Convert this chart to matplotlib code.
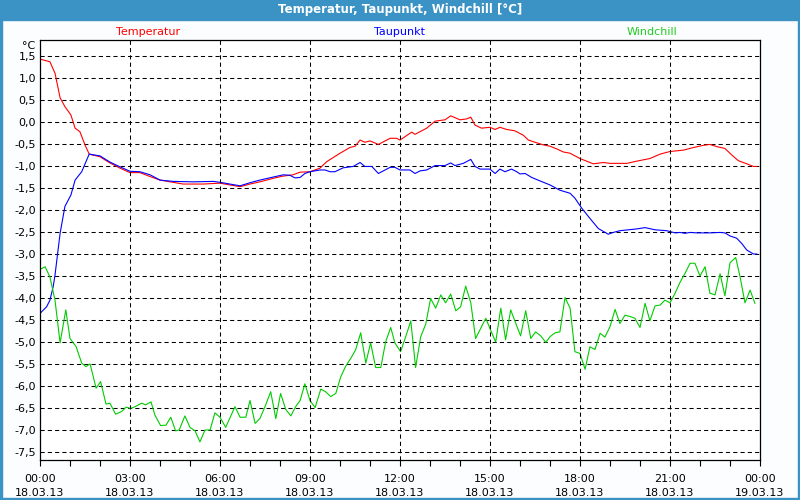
import matplotlib
matplotlib.use("Agg")
import matplotlib.pyplot as plt
from matplotlib.patches import Rectangle

# Stunden ab 18.03.13 00:00
temp_h = [0.0, 0.33, 0.5, 0.67, 0.83, 1.03, 1.17, 1.33, 1.5, 1.64, 2.0, 2.33, 2.67, 3.0, 3.33, 3.67,
          4.0, 4.43, 4.77, 5.43, 6.0, 6.33, 6.67, 7.0, 7.33, 7.77, 8.1, 8.43, 8.67, 9.0, 9.33,
          9.56, 10.0, 10.33, 10.5, 10.67, 10.83, 11.0, 11.28, 11.67, 11.89, 12.0, 12.39, 12.5,
          12.89, 13.17, 13.5, 13.69, 14.0, 14.22, 14.36, 14.5, 14.72, 15.0, 15.17, 15.33, 15.56,
          15.83, 16.11, 16.28, 16.5, 16.78, 17.0, 17.22, 17.44, 17.67, 18.0, 18.44, 18.78, 19.0,
          19.56, 19.89, 20.33, 20.67, 21.0, 21.44, 21.78, 22.11, 22.33, 22.56, 22.83, 23.06,
          23.28, 23.56, 23.78, 23.89]
temp_v = [1.43, 1.37, 1.11, 0.55, 0.35, 0.16, -0.14, -0.22, -0.52, -0.73, -0.79, -0.93, -1.05,
          -1.15, -1.15, -1.24, -1.32, -1.37, -1.41, -1.41, -1.39, -1.43, -1.47, -1.41, -1.36,
          -1.28, -1.23, -1.2, -1.14, -1.13, -1.05, -0.9, -0.71, -0.58, -0.55, -0.41, -0.46,
          -0.43, -0.51, -0.37, -0.37, -0.41, -0.23, -0.28, -0.14, 0.02, 0.05, 0.14, 0.05, 0.07,
          0.11, -0.07, -0.14, -0.12, -0.17, -0.12, -0.17, -0.2, -0.3, -0.41, -0.46, -0.52,
          -0.55, -0.61, -0.68, -0.71, -0.83, -0.95, -0.92, -0.94, -0.94, -0.89, -0.83, -0.73,
          -0.67, -0.64, -0.58, -0.53, -0.51, -0.56, -0.6, -0.75, -0.88, -0.95, -1.01, -1.01]

taup_h = [0.0, 0.22, 0.33, 0.44, 0.5, 0.67, 0.83, 1.03, 1.17, 1.39,
          1.64, 2.0, 2.33, 2.67, 3.0, 3.33, 3.67, 4.0, 4.44, 5.11,
          5.78, 6.0, 6.33, 6.67, 7.0, 7.33, 7.78, 8.11, 8.33, 8.5,
          8.67, 8.83, 9.0, 9.33, 9.5, 9.67, 9.83, 10.11, 10.44, 10.67,
          10.83, 11.06, 11.28, 11.67, 11.83, 12.0, 12.33, 12.5, 12.67, 12.89,
          13.17, 13.5, 13.69, 13.83, 14.11, 14.36, 14.5, 14.67, 15.0, 15.17,
          15.33, 15.5, 15.72, 15.89, 16.0, 16.17, 16.39, 16.67, 17.0, 17.33,
          17.67, 17.83, 18.06, 18.33, 18.61, 18.94, 19.11, 19.33, 19.89, 20.17,
          20.5, 20.89, 21.17, 21.33, 21.5, 21.67, 21.89, 22.33, 22.67, 22.83,
          23.0, 23.22, 23.39, 23.56, 23.78, 23.89]
taup_v = [-4.35, -4.2, -4.05, -3.74, -3.48, -2.53, -1.92, -1.66, -1.32, -1.13,
          -0.73, -0.77, -0.91, -1.02, -1.12, -1.13, -1.2, -1.32, -1.35, -1.36,
          -1.35, -1.37, -1.41, -1.45, -1.38, -1.32, -1.25, -1.2, -1.21, -1.27,
          -1.26, -1.17, -1.13, -1.09, -1.09, -1.13, -1.13, -1.04, -1.01, -0.92,
          -1.01, -1.01, -1.17, -1.03, -1.03, -1.09, -1.09, -1.17, -1.11, -1.09,
          -0.99, -0.99, -0.93, -0.99, -0.94, -0.85, -1.01, -1.07, -1.07, -1.17,
          -1.07, -1.13, -1.07, -1.13, -1.18, -1.17, -1.26, -1.34, -1.43, -1.55,
          -1.62, -1.73, -1.96, -2.19, -2.42, -2.55, -2.51, -2.47, -2.43, -2.4,
          -2.45, -2.47, -2.52, -2.51, -2.53, -2.51, -2.52, -2.52, -2.51, -2.52,
          -2.59, -2.64, -2.76, -2.91, -3.0, -3.0]

wind_h = [0.0, 0.17, 0.33, 0.5, 0.67, 0.86, 1.0, 1.2, 1.39, 1.53, 1.67, 1.87, 2.02, 2.2, 2.33,
          2.52, 2.72, 2.87, 3.02, 3.17, 3.39, 3.52, 3.7, 3.83, 4.02, 4.2, 4.36, 4.52, 4.64, 4.83,
          5.0, 5.17, 5.33, 5.5, 5.67, 5.83, 6.0, 6.19, 6.5, 6.67, 6.86, 7.0, 7.17, 7.33, 7.5,
          7.69, 7.86, 8.02, 8.19, 8.36, 8.52, 8.67, 8.83, 9.0, 9.17, 9.36, 9.52, 9.69, 9.86,
          10.02, 10.19, 10.36, 10.52, 10.69, 10.86, 11.02, 11.19, 11.36, 11.52, 11.69, 11.83,
          12.02, 12.19, 12.36, 12.52, 12.69, 12.86, 13.02, 13.19, 13.36, 13.52, 13.69, 13.86,
          14.02, 14.19, 14.36, 14.52, 14.69, 14.86, 15.02, 15.19, 15.36, 15.52, 15.69, 15.86,
          16.02, 16.19, 16.36, 16.52, 16.69, 16.86, 17.0, 17.17, 17.33, 17.5, 17.67, 17.83,
          18.0, 18.17, 18.33, 18.5, 18.67, 18.83, 19.0, 19.17, 19.33, 19.5, 19.67, 19.83, 20.0,
          20.17, 20.33, 20.5, 20.67, 20.83, 21.0, 21.17, 21.33, 21.5, 21.67, 21.83, 22.0, 22.17,
          22.33, 22.5, 22.67, 22.83, 23.0, 23.19, 23.33, 23.5, 23.67, 23.83]
wind_v = [-3.35, -3.29, -3.52, -4.05, -5.02, -4.27, -4.92, -5.1, -5.48, -5.56, -5.5, -6.05,
          -5.9, -6.41, -6.39, -6.64, -6.58, -6.48, -6.51, -6.47, -6.39, -6.43, -6.36, -6.66,
          -6.9, -6.89, -6.71, -7.02, -7.0, -6.68, -6.94, -7.02, -7.27, -7.0, -7.0, -6.61, -6.71,
          -6.94, -6.47, -6.71, -6.71, -6.33, -6.85, -6.74, -6.47, -6.13, -6.74, -6.17, -6.53,
          -6.68, -6.47, -6.33, -5.95, -6.33, -6.49, -6.07, -6.13, -6.24, -6.17, -5.8, -5.55,
          -5.37, -5.18, -4.79, -5.48, -5.02, -5.58, -5.58, -5.0, -4.67, -5.02, -5.22, -4.88,
          -4.52, -5.58, -4.88, -4.59, -4.01, -4.23, -3.93, -4.11, -3.91, -4.29, -4.2, -3.73,
          -4.11, -4.92, -4.69, -4.46, -4.73, -5.0, -4.23, -4.95, -4.27, -4.58, -4.86, -4.29,
          -4.92, -4.77, -4.86, -5.01, -4.88, -4.79, -4.77, -3.99, -4.23, -5.22, -5.26, -5.62,
          -5.11, -5.17, -4.8, -4.89, -4.65, -4.26, -4.58, -4.39, -4.42, -4.46, -4.67, -4.12,
          -4.52, -4.18, -4.16, -4.05, -4.11, -3.89, -3.65, -3.44, -3.21, -3.21, -3.5, -3.29,
          -3.89, -3.93, -3.45, -3.95, -3.2, -3.08, -3.5, -4.11, -3.82, -4.12]

x_ticks = [0, 3, 6, 9, 12, 15, 18, 21, 24]
x_labels = ["00:00\n18.03.13", "03:00\n18.03.13", "06:00\n18.03.13", "09:00\n18.03.13",
            "12:00\n18.03.13", "15:00\n18.03.13", "18:00\n18.03.13", "21:00\n18.03.13",
            "00:00\n19.03.13"]
y_ticks = [1.5, 1.0, 0.5, 0.0, -0.5, -1.0, -1.5, -2.0, -2.5, -3.0, -3.5, -4.0, -4.5, -5.0,
           -5.5, -6.0, -6.5, -7.0, -7.5]

plt.rcParams["font.family"] = "DejaVu Sans"
fig = plt.figure(figsize=(8, 5), dpi=100, facecolor="#fbfdfe")

# Rahmen und Titelleiste
blau = "#3b93c5"
fig.patches.append(Rectangle((0, 0.96), 1, 0.04, transform=fig.transFigure, color=blau, zorder=0))
fig.patches.append(Rectangle((0, 0), 0.003, 1, transform=fig.transFigure, color=blau, zorder=0))
fig.patches.append(Rectangle((0.997, 0), 0.003, 1, transform=fig.transFigure, color=blau, zorder=0))
fig.patches.append(Rectangle((0, 0), 1, 0.004, transform=fig.transFigure, color=blau, zorder=0))
fig.text(0.5, 0.98, "Temperatur, Taupunkt, Windchill [°C]", color="white", fontsize=8.5,
         fontweight="bold", ha="center", va="center")

ax = fig.add_axes([0.05, 0.08, 0.90, 0.84])
ax.set_facecolor("white")
ax.plot(temp_h, temp_v, color="#ff0000", lw=0.8)
ax.plot(taup_h, taup_v, color="#0000ff", lw=0.8)
ax.plot(wind_h, wind_v, color="#00cc00", lw=0.8)

ax.set_xlim(0, 24)
ax.set_ylim(-7.682, 1.864)
ax.set_xticks(x_ticks)
ax.set_xticklabels(x_labels, fontsize=8, linespacing=1.5)
ax.set_xticks(range(25), minor=True)
ax.set_yticks(y_ticks)
ax.set_yticklabels([f"{v:.1f}".replace(".", ",") for v in y_ticks], fontsize=8)
ax.tick_params(axis="x", which="both", length=4, width=0.8, direction="out", pad=6)
ax.tick_params(axis="y", length=0, pad=3)
ax.grid(True, axis="y", color="black", linestyle=(0, (4, 3)), lw=0.75)
for t in x_ticks[1:-1]:
    ax.axvline(t, color="black", linestyle=(0, (4, 3)), lw=0.75)
for s in ax.spines.values():
    s.set_linewidth(0.9)

fig.text(0.0275, 0.908, "°C", fontsize=8, ha="left", va="center")
fig.text(0.185, 0.936, "Temperatur", color="#ff0000", fontsize=8, ha="center", va="center")
fig.text(0.5, 0.936, "Taupunkt", color="#0000ff", fontsize=8, ha="center", va="center")
fig.text(0.815, 0.936, "Windchill", color="#22cc22", fontsize=8, ha="center", va="center")

fig.savefig("out.png", dpi=100, facecolor=fig.get_facecolor())
